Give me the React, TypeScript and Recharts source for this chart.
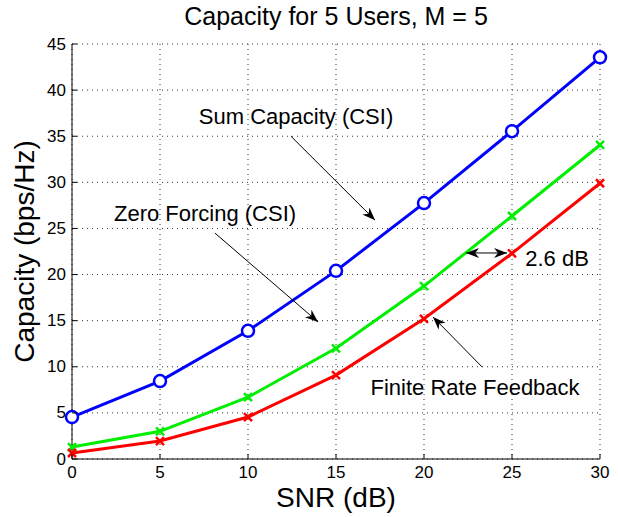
import React from "react";
import {
  LineChart,
  Line,
  XAxis,
  YAxis,
  CartesianGrid,
  ReferenceLine,
  ReferenceDot,
} from "recharts";

const snr = [0, 5, 10, 15, 20, 25, 30];
const sumCapacity = [4.55, 8.45, 13.9, 20.4, 27.75, 35.55, 43.55];
const zeroForcing = [1.3, 3.0, 6.7, 12.0, 18.75, 26.35, 34.05];
const finiteRate = [0.65, 1.95, 4.55, 9.1, 15.2, 22.3, 29.9];

const xTicks = [0, 5, 10, 15, 20, 25, 30];
const yTicks = [0, 5, 10, 15, 20, 25, 30, 35, 40, 45];

// annotation texts and arrows, in data units
const notes = [
  { text: "Sum Capacity (CSI)", x: 12.73, y: 37.1 },
  { text: "Zero Forcing (CSI)", x: 7.56, y: 26.6 },
  { text: "2.6 dB", x: 27.56, y: 21.7 },
  { text: "Finite Rate Feedback", x: 22.9, y: 7.8 },
];
const arrows = [
  { from: [12.44, 35.0], to: [17.22, 25.9], both: false },
  { from: [8.12, 24.5], to: [13.98, 14.86], both: false },
  { from: [24.72, 22.34], to: [22.39, 22.34], both: true },
  { from: [23.3, 9.98], to: [20.51, 15.4], both: false },
];

const data = snr.map((s, i) => ({
  snr: s,
  sum: sumCapacity[i],
  zf: zeroForcing[i],
  frf: finiteRate[i],
}));

const FONT = "'Liberation Sans', Arial, Helvetica, sans-serif";

function head(x1: number, y1: number, x2: number, y2: number) {
  const dx = x2 - x1;
  const dy = y2 - y1;
  const len = Math.sqrt(dx * dx + dy * dy) || 1;
  const ux = dx / len;
  const uy = dy / len;
  const L = 13;
  const W = 5;
  const bx = x2 - ux * L;
  const by = y2 - uy * L;
  const nx = x2 - ux * L * 0.7;
  const ny = y2 - uy * L * 0.7;
  return `${x2},${y2} ${bx - uy * W},${by + ux * W} ${nx},${ny} ${bx + uy * W},${by - ux * W}`;
}

function makeArrow(both: boolean) {
  return (p: any) => {
    const { x1, y1, x2, y2 } = p;
    return (
      <g>
        <line x1={x1} y1={y1} x2={x2} y2={y2} stroke="#000" strokeWidth={1} />
        <polygon points={head(x1, y1, x2, y2)} fill="#000" />
        {both && <polygon points={head(x2, y2, x1, y1)} fill="#000" />}
      </g>
    );
  };
}

const XMark = (props: any) => {
  const { cx, cy, stroke } = props;
  const s = 4;
  return (
    <g>
      <line x1={cx - s} y1={cy - s} x2={cx + s} y2={cy + s} stroke={stroke} strokeWidth={2.5} />
      <line x1={cx - s} y1={cy + s} x2={cx + s} y2={cy - s} stroke={stroke} strokeWidth={2.5} />
    </g>
  );
};

const YTick = (props: any) => {
  const { x, y, payload } = props;
  return (
    <g>
      <text x={x} y={y} textAnchor="end" dominantBaseline="central" fontSize={17} fill="#000" fontFamily={FONT}>
        {payload.value}
      </text>
      <line x1={x + 6} x2={x + 11} y1={y} y2={y} stroke="#000" />
    </g>
  );
};

const XTick = (props: any) => {
  const { x, y, payload } = props;
  return (
    <g>
      <text x={x} y={y} textAnchor="middle" dy="0.75em" fontSize={17} fill="#000" fontFamily={FONT}>
        {payload.value}
      </text>
      <line x1={x} x2={x} y1={y - 6} y2={y - 11} stroke="#000" />
    </g>
  );
};

export default function App() {
  return (
    <div style={{ position: "absolute", left: 0, top: 0, width: 618, height: 517, background: "#fff" }}>
      <div
        style={{
          position: "absolute",
          left: 72,
          width: 528,
          top: 2,
          textAlign: "center",
          fontFamily: FONT,
          fontSize: 25,
          color: "#000",
        }}
      >
        Capacity for 5 Users, M = 5
      </div>
      <LineChart width={618} height={517} data={data} margin={{ top: 44, right: 18, left: 22, bottom: 28 }}>
        <CartesianGrid stroke="#333" strokeDasharray="1 4" />
        <XAxis
          dataKey="snr"
          type="number"
          domain={[0, 30]}
          ticks={xTicks}
          height={30}
          tickSize={6}
          tickMargin={0}
          tickLine={false}
          tick={<XTick />}
          axisLine={{ stroke: "#000" }}
          label={(p: any) => {
            const vb = p.viewBox;
            return (
              <text x={vb.x + vb.width / 2} y={497} textAnchor="middle" dominantBaseline="central" fontSize={28} fontFamily={FONT} fill="#000">
                SNR (dB)
              </text>
            );
          }}
        />
        <YAxis
          type="number"
          domain={[0, 45]}
          ticks={yTicks}
          width={50}
          tickSize={6}
          tickMargin={0}
          tickLine={false}
          tick={<YTick />}
          axisLine={{ stroke: "#000" }}
          label={(p: any) => {
            const vb = p.viewBox;
            const cy = vb.y + vb.height / 2;
            return (
              <text x={24} y={cy} transform={`rotate(-90 24 ${cy})`} textAnchor="middle" dominantBaseline="central" fontSize={28} fontFamily={FONT} fill="#000">
                Capacity (bps/Hz)
              </text>
            );
          }}
        />
        <Line
          dataKey="sum"
          stroke="#0000ff"
          strokeWidth={3}
          isAnimationActive={false}
          dot={{ r: 6, strokeWidth: 2.5, fill: "#fff", stroke: "#0000ff" }}
        />
        <Line
          dataKey="zf"
          stroke="#00ee00"
          strokeWidth={3}
          isAnimationActive={false}
          dot={(p: any) => <XMark key={p.index} {...p} stroke="#00ee00" />}
        />
        <Line
          dataKey="frf"
          stroke="#ff0000"
          strokeWidth={3}
          isAnimationActive={false}
          dot={(p: any) => <XMark key={p.index} {...p} stroke="#ff0000" />}
        />
        {arrows.map((a, i) => (
          <ReferenceLine
            key={"a" + i}
            segment={[
              { x: a.from[0], y: a.from[1] },
              { x: a.to[0], y: a.to[1] },
            ]}
            shape={makeArrow(a.both)}
          />
        ))}
        {notes.map((n, i) => (
          <ReferenceDot
            key={"n" + i}
            x={n.x}
            y={n.y}
            r={0}
            shape={(p: any) => (
              <text x={p.cx} y={p.cy} textAnchor="middle" dominantBaseline="central" fontSize={22} fontFamily={FONT} fill="#000">
                {n.text}
              </text>
            )}
          />
        ))}
      </LineChart>
    </div>
  );
}
